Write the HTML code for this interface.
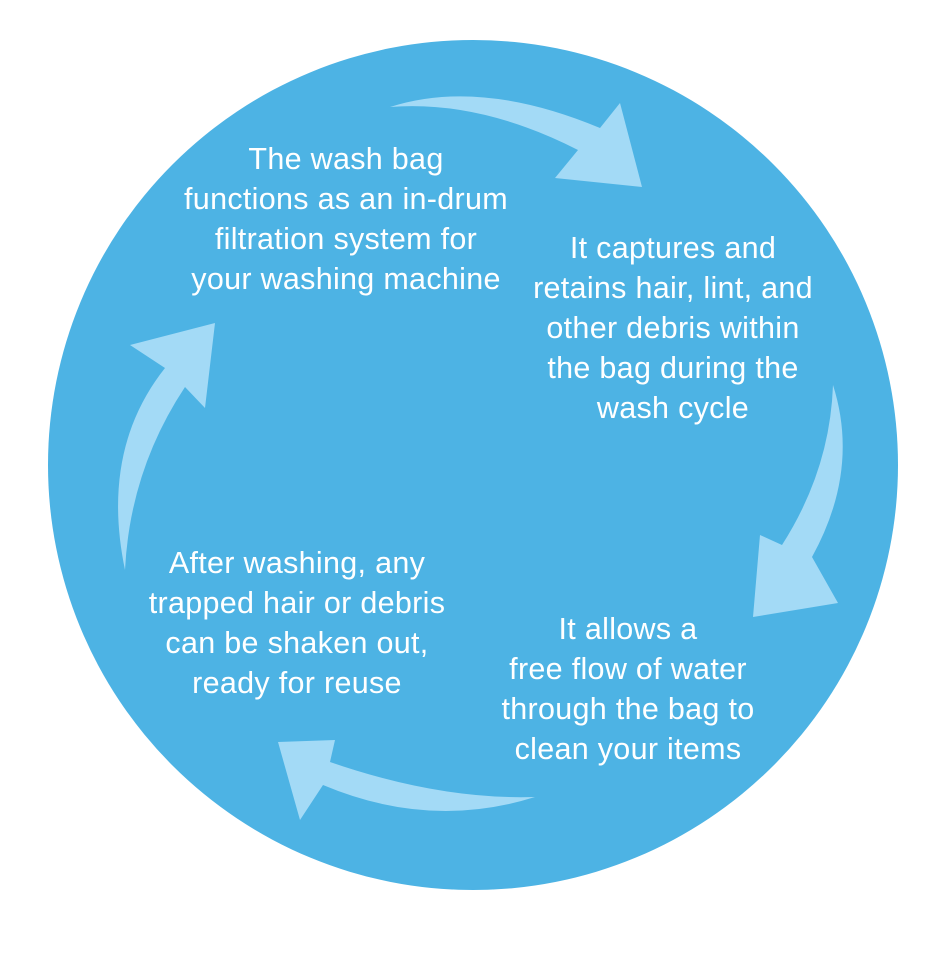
<!DOCTYPE html>
<html><head><style>
body{margin:0;background:#fff;width:946px;height:950px;overflow:hidden}
text{font-family:"Liberation Sans",sans-serif;font-size:30.5px;letter-spacing:0.3px;fill:#fff;text-anchor:middle}
</style></head><body>
<svg width="946" height="950" viewBox="0 0 946 950">
<circle cx="473" cy="465" r="425" fill="#4DB3E4"/>
<g fill="#A3DAF6">
<path d="M390,107 Q480,78 600,128 L620,103 L642,187 L555,178 L578,150 Q480,100 390,107 Z"/>
<path d="M833,385 Q860,470 812,557 L838,603 L753,617 L760,535 L782,545 Q830,470 833,385 Z"/>
<path d="M535,797 Q430,830 323,785 L300,820 L278,742 L335,740 L330,762 Q440,800 535,797 Z"/>
<path d="M125,570 Q100,450 165,368 L130,345 L215,323 L205,408 L185,387 Q130,470 125,570 Z"/>
</g>
<text x="346" y="169">The wash bag</text>
<text x="346" y="209">functions as an in-drum</text>
<text x="346" y="249">filtration system for</text>
<text x="346" y="289">your washing machine</text>
<text x="673" y="258">It captures and</text>
<text x="673" y="298">retains hair, lint, and</text>
<text x="673" y="338">other debris within</text>
<text x="673" y="378">the bag during the</text>
<text x="673" y="418">wash cycle</text>
<text x="297" y="573">After washing, any</text>
<text x="297" y="613">trapped hair or debris</text>
<text x="297" y="653">can be shaken out,</text>
<text x="297" y="693">ready for reuse</text>
<text x="628" y="639">It allows a</text>
<text x="628" y="679">free flow of water</text>
<text x="628" y="719">through the bag to</text>
<text x="628" y="759">clean your items</text>
</svg>
</body></html>
